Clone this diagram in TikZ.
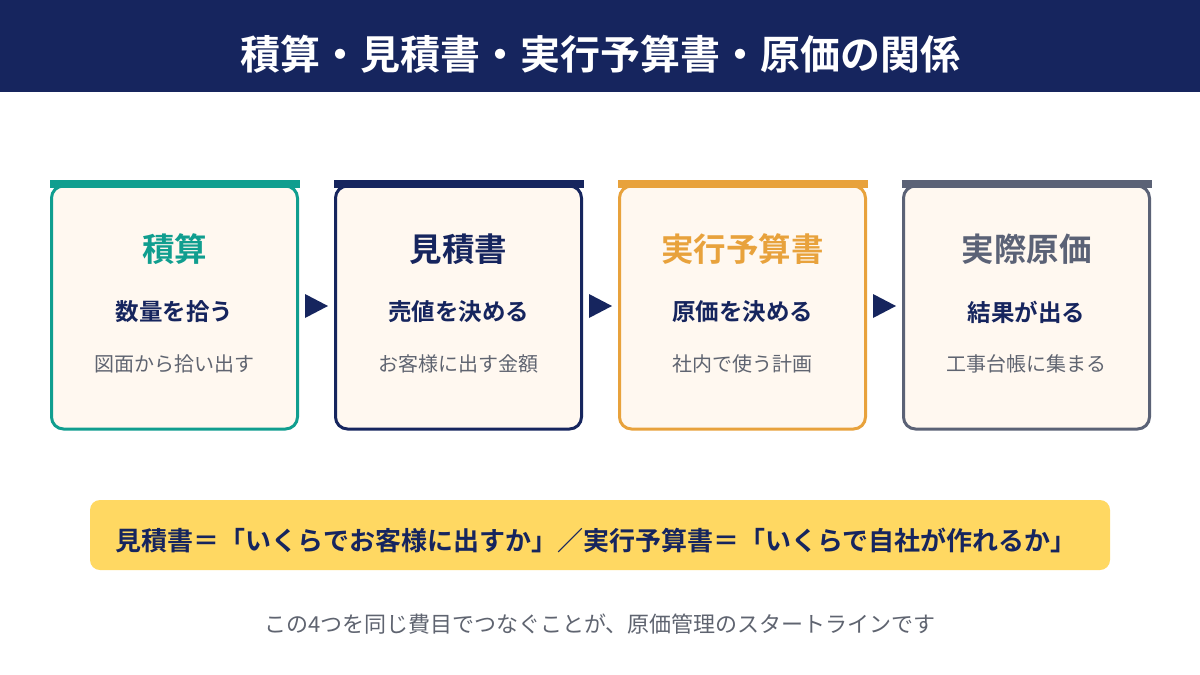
\documentclass[tikz,border=0pt]{standalone}
\usepackage{fontspec}
\newfontfamily\cjk{Noto Sans CJK JP}
\newfontfamily\cjkb{Noto Sans CJK JP Bold}
\definecolor{navy}{HTML}{16255E}
\definecolor{teal}{HTML}{109E8F}
\definecolor{orng}{HTML}{E8A23C}
\definecolor{slate}{HTML}{5B6276}
\definecolor{cream}{HTML}{FFF8F0}
\definecolor{yel}{HTML}{FFD862}
\definecolor{txtgray}{HTML}{5F6470}
\begin{document}
\begin{tikzpicture}[x=1pt,y=-1pt,
  card/.style={draw=#1,line width=3pt,fill=cream,rounded corners=12pt},
  ttl/.style={font=\cjkb\fontsize{32.5}{36}\selectfont,text=#1},
  sub/.style={font=\cjkb\fontsize{23.5}{26}\selectfont,text=navy},
  sm/.style={font=\cjk\fontsize{20}{22}\selectfont,text=txtgray},
  arr/.style={fill=navy}]
\useasboundingbox (0,0) rectangle (1200,675);
\fill[white] (0,0) rectangle (1200,675);
\fill[navy] (0,0) rectangle (1200,92);
\node[font=\cjkb\fontsize{40}{44}\selectfont,text=white] (title) at (600,54) {積算・見積書・実行予算書・原価の関係};
\foreach \i/\c/\t/\s/\m in {0/teal/積算/数量を拾う/図面から拾い出す,1/navy/見積書/売値を決める/お客様に出す金額,2/orng/実行予算書/原価を決める/社内で使う計画,3/slate/実際原価/結果が出る/工事台帳に集まる}{
  \pgfmathsetmacro\xl{51.5+284*\i}
  \draw[card=\c] (\xl,186) rectangle (\xl+246,429);
  \fill[\c] (\xl-1.5,180) rectangle (\xl+248,188);
  \node[ttl=\c] (t\i) at (\xl+123,249) {\t};
  \node[sub] (s\i) at (\xl+123,312) {\s};
  \node[sm] (m\i) at (\xl+123,364) {\m};
}
\foreach \i in {0,1,2}{
  \pgfmathsetmacro\xa{305+284*\i}
  \fill[arr] (\xa,294) -- (\xa+23,306) -- (\xa,318) -- cycle;
}
\fill[yel,rounded corners=10pt] (90,500) rectangle (1110,570);
\node[font=\cjkb\fontsize{26}{28}\selectfont,text=navy] (note) at (596,540) {見積書＝「いくらでお客様に出すか」／実行予算書＝「いくらで自社が作れるか」};
\node[font=\cjk\fontsize{22}{24}\selectfont,text=txtgray] (foot) at (600,624) {この4つを同じ費目でつなぐことが、原価管理のスタートラインです};
\end{tikzpicture}
\end{document}
